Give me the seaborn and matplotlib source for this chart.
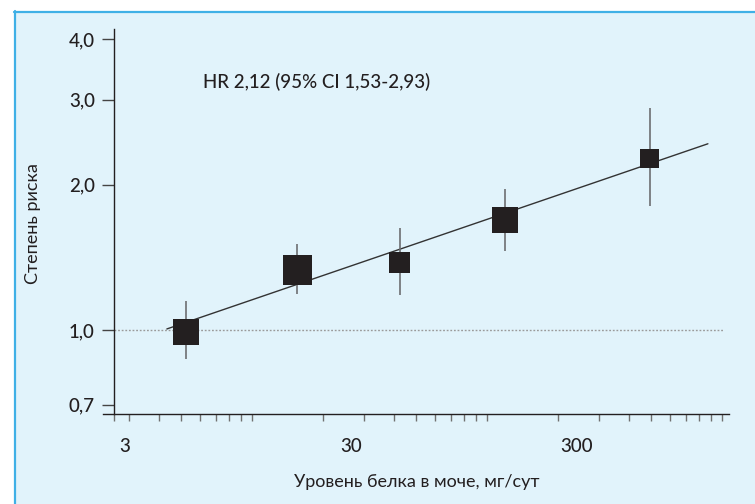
import numpy as np
import matplotlib
matplotlib.use("Agg")
import matplotlib.pyplot as plt
import seaborn as sns
from matplotlib.patches import Rectangle
from matplotlib.lines import Line2D
from matplotlib.ticker import FixedLocator, FixedFormatter, NullFormatter

# ---------------- data ----------------
protein = [5.6, 17.4, 49.4, 144, 631]          # мг/сут
hr = [0.99, 1.33, 1.38, 1.69, 2.27]
ci_low = [0.87, 1.19, 1.18, 1.46, 1.81]
ci_high = [1.15, 1.51, 1.63, 1.96, 2.88]
fit_x = [4.6, 1139]
fit_y = [1.005, 2.43]
ref_y = 1.0
x_tick_vals = [3, 30, 300]
x_tick_labels = ["3", "30", "300"]
y_tick_vals = [0.7, 1.0, 2.0, 3.0, 4.0]
y_tick_labels = ["0,7", "1,0", "2,0", "3,0", "4,0"]
annotation = "HR 2,12 (95% CI 1,53-2,93)"
xlabel = "Уровень белка в моче, мг/сут"
ylabel = "Степень риска"

# ---------------- styles ----------------
marker_side_px = [26, 29.5, 21, 25.5, 19]
dark = "#231f20"
bar_col = "#6d6e71"
panel_col = "#e1f3fb"
border_col = "#3fb0e6"

sns.set_theme(style="white")
plt.rcParams["font.family"] = ["Lato", "DejaVu Sans"]
plt.rcParams["font.weight"] = "medium"
plt.rcParams["text.color"] = dark
plt.rcParams["axes.labelcolor"] = dark
plt.rcParams["xtick.color"] = dark
plt.rcParams["ytick.color"] = dark

W, H = 755, 504
fig = plt.figure(figsize=(W / 100, H / 100), dpi=100)
fig.patch.set_facecolor("white")

# light-blue panel with blue border on top/left
fig.add_artist(Rectangle((14 / W, 0), (W - 14) / W, (H - 11) / H,
                         transform=fig.transFigure, facecolor=panel_col,
                         edgecolor="none", zorder=-2))
fig.add_artist(Line2D([14 / W, 1], [(H - 11.5) / H] * 2, transform=fig.transFigure,
                      color=border_col, lw=1.6, zorder=-1))
fig.add_artist(Line2D([14.5 / W] * 2, [0, (H - 11) / H], transform=fig.transFigure,
                      color=border_col, lw=1.6, zorder=-1))

ax = fig.add_axes([103 / W, 90 / H, 626 / W, 385 / H])
ax.set_facecolor("none")
ax.set_xscale("log")
ax.set_yscale("log")
x_left, x_right = 2.40, 1412
x_spine = 2.68
ax.set_xlim(x_left, x_right)
ax.set_ylim(0.670, 4.20)

# reference line at HR = 1
ax.hlines(ref_y, x_spine, 1328, colors="#9a9a9a", linestyles=(0, (1.3, 1.3)),
          lw=1.0, zorder=1)

# fitted line
sns.lineplot(x=fit_x, y=fit_y, color="#333333", lw=1.0, ax=ax, zorder=2)

# confidence intervals
yerr = [np.array(hr) - np.array(ci_low), np.array(ci_high) - np.array(hr)]
ax.errorbar(protein, hr, yerr=yerr, fmt="none", ecolor=bar_col, elinewidth=1.2,
            capsize=0, zorder=3)

# squares
sizes = [(p * 0.72) ** 2 for p in marker_side_px]
sns.scatterplot(x=protein, y=hr, marker="s", s=sizes, color=dark, linewidth=0,
                ax=ax, zorder=4, legend=False)

# spines
for side in ("top", "right"):
    ax.spines[side].set_visible(False)
ax.spines["left"].set_position(("data", x_spine))
for side in ("left", "bottom"):
    ax.spines[side].set_color(dark)
    ax.spines[side].set_linewidth(1.0)

# y ticks
ax.yaxis.set_major_locator(FixedLocator(y_tick_vals))
ax.yaxis.set_major_formatter(FixedFormatter(y_tick_labels))
ax.yaxis.set_minor_locator(FixedLocator([]))
ax.tick_params(axis="y", which="major", left=True, direction="out", length=8.6,
               width=1.0, pad=5, labelsize=13.5, color="#444444")

# x ticks: labels without marks, tick marks on their own grid
def tick_grid_pos(t):
    return 3 * 10 ** ((198 + 235 * (np.log10(t) - 1)) / 226)

minor = [tick_grid_pos(m * 10 ** k) for k in (0, 1, 2)
         for m in (1, 1.5, 2, 2.5, 3, 3.5, 4, 4.5, 5)]
minor = [v for v in minor if x_spine <= v <= x_right] + [x_spine]
ax.xaxis.set_major_locator(FixedLocator(x_tick_vals))
ax.xaxis.set_major_formatter(FixedFormatter(x_tick_labels))
ax.xaxis.set_minor_locator(FixedLocator(minor))
ax.xaxis.set_minor_formatter(NullFormatter())
ax.tick_params(axis="x", which="major", bottom=True, length=0, pad=17,
               labelsize=13.5)
ax.tick_params(axis="x", which="minor", bottom=True, direction="out", length=5,
               width=1.0, color="#707070")

# labels
ax.set_xlabel(xlabel, fontsize=13, va="center")
ax.xaxis.set_label_coords(0.5016, -0.1766)
ax.set_ylabel(ylabel, fontsize=13, va="center")
ax.yaxis.set_label_coords(-0.1118, 0.4935)

fig.text(203 / W, (H - 82) / H, annotation, fontsize=13.5, ha="left", va="center",
         color=dark)

fig.savefig("out.png", dpi=100)
